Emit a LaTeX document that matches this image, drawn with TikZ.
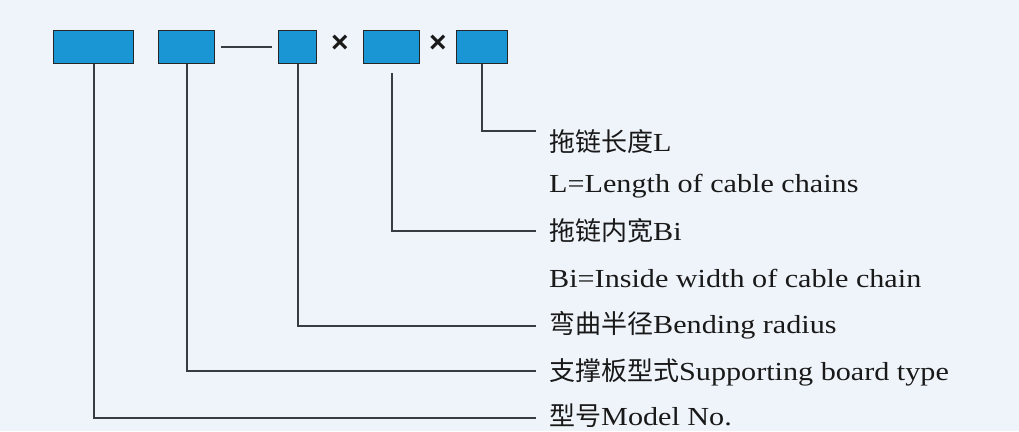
\documentclass[tikz,border=0pt]{standalone}
\usepackage{fontspec}
\setmainfont[FakeStretch=1.16]{Liberation Serif}
\newfontfamily\cjk{Noto Sans CJK SC}
\newfontfamily\symfont{Liberation Sans}
\usetikzlibrary{calc,positioning}
\definecolor{bgblue}{RGB}{239,244,250}
\definecolor{boxblue}{RGB}{27,150,212}
\definecolor{linegray}{RGB}{55,60,66}

\begin{document}
\begin{tikzpicture}[x=1pt, y=-1pt,
    field/.style={draw=black!85, line width=1pt, fill=boxblue, minimum height=33pt, inner sep=0pt},
    lead/.style={draw=linegray, line width=2pt},
    note/.style={anchor=base west, inner sep=0pt, text=black!90, font=\fontsize{26}{30}\selectfont},
    cross/.style={inner sep=0pt, text=black!90, font=\symfont\bfseries\fontsize{30}{30}\selectfont}]
    \fill[bgblue] (0,0) rectangle (1019,431);
    \useasboundingbox (0,0) rectangle (1019,431);

    % Code fields
    \node[field, minimum width=80pt, anchor=north west] (model) at (53,30) {};
    \node[field, minimum width=56pt, right=24pt of model] (board) {};
    \node[field, minimum width=38pt, right=63pt of board] (radius) {};
    \node[field, minimum width=56pt, right=46pt of radius] (width) {};
    \node[field, minimum width=51pt, right=36pt of width] (length) {};

    % Separators
    \draw[lead, shorten <=6pt, shorten >=6pt] (board) -- (radius);
    \node[cross, yshift=3pt] (x1) at ($(radius.east)!0.5!(width.west)$) {×};
    \node[cross, yshift=3pt] (x2) at ($(width.east)!0.5!(length.west)$) {×};

    % Descriptions
    \node[note] (lentx) at (549,151) {{\cjk 拖链长度}L};
    \node[note] (lenen) at (549,192) {L=Length of cable chains};
    \node[note] (widtx) at (549,240) {{\cjk 拖链内宽}Bi};
    \node[note] (widen) at (549,287) {Bi=Inside width of cable chain};
    \node[note] (radtx) at (549,333) {{\cjk 弯曲半径}Bending radius};
    \node[note] (brdtx) at (549,380) {{\cjk 支撑板型式}Supporting board type};
    \node[note] (modtx) at (549,425) {{\cjk 型号}Model No.};

    % Leader ends
    \coordinate (lenend) at (536,131);
    \coordinate (widend) at (536,231);
    \coordinate (radend) at (536,326);
    \coordinate (brdend) at (536,371);
    \coordinate (modend) at (536,418);

    % Leaders
    \draw[lead] (length.south) |- (lenend);
    \draw[lead, shorten <=9pt] (width.south) |- (widend);
    \draw[lead] (radius.south) |- (radend);
    \draw[lead] (board.south) |- (brdend);
    \draw[lead] (model.south) |- (modend);
\end{tikzpicture}
\end{document}
